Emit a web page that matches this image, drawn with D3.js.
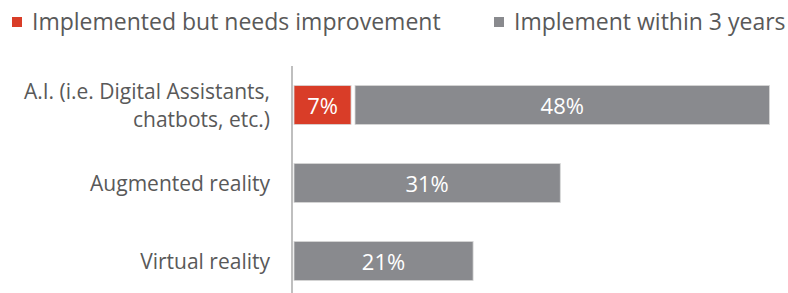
<!DOCTYPE html>
<html>
<head>
<meta charset="utf-8">
<script src="https://cdn.jsdelivr.net/npm/d3@7"></script>
<style>
  body { margin: 0; background: #fff; }
  svg { display: block; font-family: "Open Sans", sans-serif; }
</style>
</head>
<body>
<svg id="chart" width="788" height="293"></svg>
<script>
const categories = [
  ['A.I. (i.e. Digital Assistants,', 'chatbots, etc.)'],
  ['Augmented reality'],
  ['Virtual reality'],
];
const seriesNames = ['Implemented but needs improvement', 'Implement within 3 years'];
const seriesColors = ['#d93d28', '#898a8e'];
const improveValues = [7, 0, 0];
const withinValues = [48, 31, 21];

const svg = d3.select('#chart');
const keys = categories.map(d => d.join(' '));

const rows = keys.map((k, i) => ({ key: k, improve: improveValues[i], within: withinValues[i] }));
const stacked = d3.stack().keys(['improve', 'within'])(rows);

const x = d3.scaleLinear().domain([0, 55]).range([292, 771.5]);
const y = d3.scaleBand().domain(keys).range([66, 300]).paddingInner(0.5).paddingOuter(0.25);

// bars
const gap = 2;
svg.append('g').attr('class', 'bars')
  .selectAll('g')
  .data(stacked)
  .join('g')
  .attr('fill', (d, i) => seriesColors[i])
  .selectAll('rect')
  .data(d => d.filter(s => s[1] - s[0] > 0))
  .join('rect')
  .attr('x', d => x(d[0]) + gap)
  .attr('y', d => y(d.data.key))
  .attr('width', d => x(d[1]) - x(d[0]) - gap * 2)
  .attr('height', y.bandwidth())
  .attr('stroke', '#d6d6d6')
  .attr('stroke-width', 0.8);

// value labels
svg.append('g').attr('class', 'values')
  .selectAll('g')
  .data(stacked)
  .join('g')
  .selectAll('text')
  .data(d => d.filter(s => s[1] - s[0] > 0).map(s => ({ s, v: s[1] - s[0] })))
  .join('text')
  .attr('x', d => (x(d.s[0]) + x(d.s[1])) / 2)
  .attr('y', d => y(d.s.data.key) + y.bandwidth() / 2 + 1)
  .attr('dy', '0.36em')
  .attr('text-anchor', 'middle')
  .attr('fill', '#fff')
  .attr('font-size', 22)
  .text(d => d.v + '%');

// axis line
svg.append('line')
  .attr('x1', x(0)).attr('x2', x(0))
  .attr('y1', 66).attr('y2', 293)
  .attr('stroke', '#bfbfbf')
  .attr('stroke-width', 2);

// category labels
const labels = svg.append('g').attr('class', 'labels')
  .selectAll('text')
  .data(categories)
  .join('text')
  .attr('text-anchor', 'end')
  .attr('fill', '#595959')
  .attr('font-size', 21)
  .attr('transform', (d, i) => 'translate(270,' + (y(keys[i]) + y.bandwidth() / 2) + ')');
labels.selectAll('tspan')
  .data(d => d.map((t, j) => ({ t, j, n: d.length })))
  .join('tspan')
  .attr('x', 0)
  .attr('y', d => (d.j - (d.n - 1) / 2) * 28)
  .attr('dy', '0.36em')
  .text(d => d.t);

// legend
const legendX = [12, 494];
const legend = svg.append('g').attr('class', 'legend')
  .selectAll('g')
  .data(seriesNames)
  .join('g')
  .attr('transform', (d, i) => 'translate(' + legendX[i] + ',22)');
legend.append('rect')
  .attr('x', 0).attr('y', -5)
  .attr('width', 10).attr('height', 10)
  .attr('fill', (d, i) => seriesColors[i]);
legend.append('text')
  .attr('x', 20)
  .attr('dy', '0.36em')
  .attr('fill', '#595959')
  .attr('font-size', 23)
  .text(d => d);
</script>
</body>
</html>
